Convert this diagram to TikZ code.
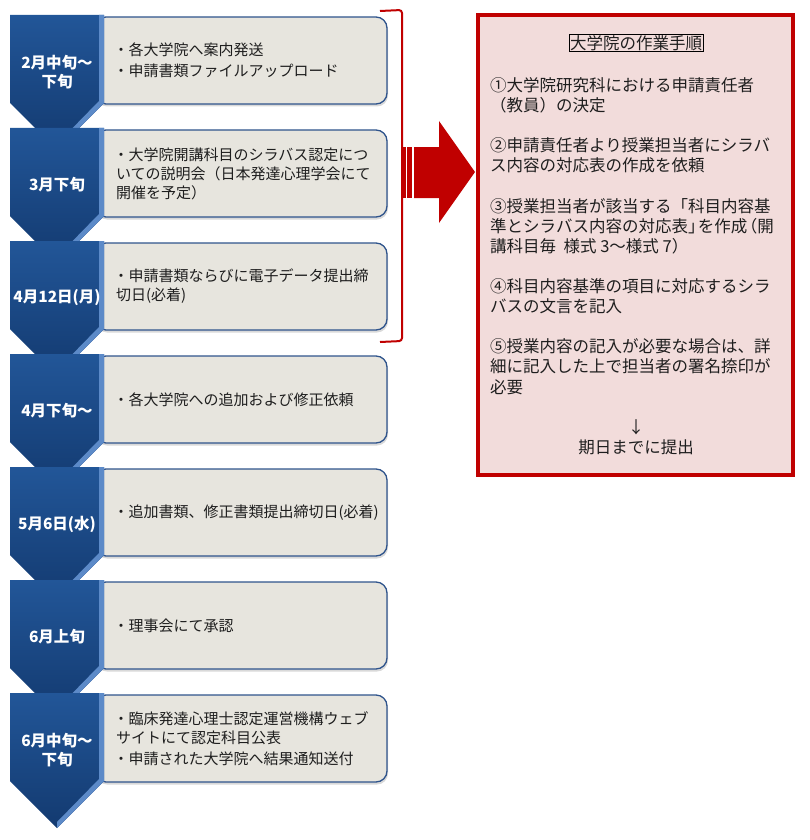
\documentclass[tikz,border=0pt]{standalone}
\usepackage{fontspec}
\setmainfont{Noto Sans CJK JP}
\usepackage{tikz}
\usetikzlibrary{positioning,shadows}

\definecolor{navytop}{RGB}{34,86,152}
\definecolor{navybot}{RGB}{19,58,112}
\definecolor{navyedge}{RGB}{92,138,200}
\definecolor{boxfill}{RGB}{231,229,222}
\definecolor{boxline}{RGB}{47,84,140}
\definecolor{redline}{RGB}{192,0,0}
\definecolor{pinkfill}{RGB}{242,220,219}
\definecolor{textgray}{RGB}{30,30,30}

\tikzset{
  stepbox/.style={rectangle, draw=boxline, line width=1.3pt, fill=boxfill, rounded corners=11pt,
    minimum width=292pt, minimum height=87pt, inner sep=0pt,
    drop shadow={shadow xshift=1pt, shadow yshift=-2.5pt, opacity=0.3}},
  steptext/.style={align=left, text=textgray, inner sep=0pt, font=\fontsize{15}{19}\selectfont},
  datelabel/.style={align=center, text=white, inner sep=0pt, font=\fontsize{15.5}{19}\selectfont\bfseries},
  chevron/.style={top color=navytop, bottom color=navybot},
  proctext/.style={text=textgray, inner sep=0pt, font=\fontsize{16.5}{20.1}\selectfont},
}

\begin{document}
\begin{tikzpicture}[x=1pt, y=-1pt]
    \useasboundingbox (0,0) rectangle (809,840);

    % timeline of steps
    \foreach \n/\tp/\lab/\txt in {
      1/17/{2月中旬～\\下旬}/{・各大学院へ案内発送\\[2pt]・申請書類ファイルアップロード},
      2/130/{3月下旬}/{・大学院開講科目のシラバス認定につ\\\,いての説明会（日本発達心理学会にて\\\,開催を予定）},
      3/243/{4月12日(月)}/{・申請書類ならびに電子データ提出締\\\,切日(必着)},
      4/356/{4月下旬～}/{・各大学院への追加および修正依頼},
      5/469/{5月6日(水)}/{・追加書類、修正書類提出締切日(必着)},
      6/582/{6月上旬}/{・理事会にて承認},
      7/695/{6月中旬～\\下旬}/{・臨床発達心理士認定運営機構ウェブ\\\,サイトにて認定科目公表\\[2pt]・申請された大学院へ結果通知送付}%
    }{
      \node (box\n) [stepbox] at (241,\tp+43.5) {};
      \node (task\n) [steptext, right=19pt of box\n.west] {\txt};
      \path[chevron] (10,\tp-2) -- (104,\tp-2) -- (104,\tp+86) -- (57,\tp+133) -- (10,\tp+86) -- cycle;
      \fill[navyedge] (99,\tp-2) -- (104,\tp-2) -- (104,\tp+86) -- (57,\tp+133) -- (57,\tp+127) -- (99,\tp+84) -- cycle;
      \node (date\n) [datelabel] at (57,\tp+55) {\lab};
    }

    % bracket and arrow
    \draw[redline, line width=2pt, rounded corners=3pt] (380,11) -- (402,10) -- (402,341) -- (380,342);
    \fill[redline] (403,147) rectangle (405.5,198);
    \fill[redline] (407,147) rectangle (412,198);
    \fill[redline] (414,147) -- (439,147) -- (439,121) -- (475,172) -- (439,223) -- (439,198) -- (414,198) -- cycle;

    % work procedure of the graduate school
    \node (procbox) [draw=redline, line width=3.5pt, fill=pinkfill, minimum width=315pt, minimum height=460pt, inner sep=0pt] at (635.5,245) {};
    \node (proctitle) [proctext, draw=black, line width=0.6pt, inner sep=1pt] at (636,43) {大学院の作業手順};
    \node (procsteps) [proctext, align=left, anchor=west] at (490,236) {①大学院研究科における申請責任者\\（教員）の決定\\[20.1pt]②申請責任者より授業担当者にシラバ\\ス内容の対応表の作成を依頼\\[20.1pt]③授業担当者が該当する「科目内容基\\準とシラバス内容の対応表」\kern-.4em を作成\kern-.4em（開\\講科目毎\ \ 様式 3～様式 7）\\[20.1pt]④科目内容基準の項目に対応するシラ\\バスの文言を記入\\[20.1pt]⑤授業内容の記入が必要な場合は、詳\\細に記入した上で担当者の署名捺印が\\必要};
    \node (deadline) [proctext, align=center] at (636,437) {↓\\期日までに提出};
\end{tikzpicture}
\end{document}
